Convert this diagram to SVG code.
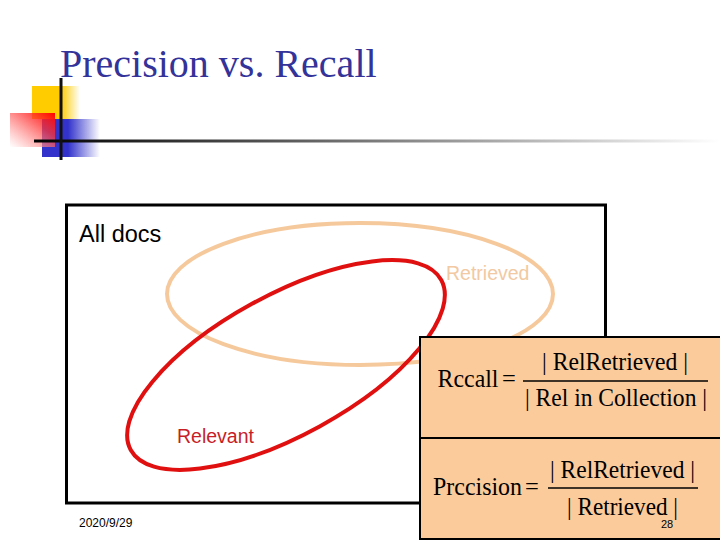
<svg xmlns="http://www.w3.org/2000/svg" width="720" height="540" viewBox="0 0 720 540">
  <defs>
    <linearGradient id="gYellow" x1="0" y1="0" x2="1" y2="0">
      <stop offset="0" stop-color="#FFCC00"/>
      <stop offset="0.6" stop-color="#FFCC00"/>
      <stop offset="1" stop-color="#FFCC00" stop-opacity="0"/>
    </linearGradient>
    <linearGradient id="gBlue" x1="0" y1="0" x2="1" y2="0">
      <stop offset="0" stop-color="#3333CC"/>
      <stop offset="0.45" stop-color="#3333CC"/>
      <stop offset="1" stop-color="#3333CC" stop-opacity="0"/>
    </linearGradient>
    <linearGradient id="gRed" x1="1" y1="0" x2="0" y2="1">
      <stop offset="0" stop-color="#FF0000"/>
      <stop offset="0.35" stop-color="#FF3333" stop-opacity="0.75"/>
      <stop offset="1" stop-color="#FFFFFF" stop-opacity="0.6"/>
    </linearGradient>
    <linearGradient id="gLine" x1="0" y1="0" x2="1" y2="0">
      <stop offset="0" stop-color="#000000"/>
      <stop offset="0.35" stop-color="#555555"/>
      <stop offset="1" stop-color="#FFFFFF"/>
    </linearGradient>
  </defs>
  <style>
    .title { font-family: "Liberation Serif", "Times New Roman", serif; font-size: 40px; fill: #333399; }
    .sans { font-family: "Liberation Sans", Arial, sans-serif; }
    .math { font-family: "Liberation Serif", "Times New Roman", serif; font-size: 24.5px; fill: #000; }
    .box { fill: #FBCB9C; stroke: #000; stroke-width: 2; }
    .frac { stroke: #000; stroke-width: 1.5; }
  </style>

  <rect width="720" height="540" fill="#FFFFFF"/>

  <g id="decoration">
    <rect x="32" y="86" width="48" height="33" fill="url(#gYellow)"/>
    <rect x="42" y="119" width="58" height="38" fill="url(#gBlue)"/>
    <rect x="10" y="113" width="45" height="34" fill="url(#gRed)"/>
    <rect x="34" y="139.5" width="686" height="3" fill="url(#gLine)"/>
    <rect x="59.5" y="78" width="3" height="82" fill="#111111"/>
  </g>

  <g id="title">
    <text class="title" x="60" y="77">Precision vs. Recall</text>
  </g>

  <g id="all-docs">
    <rect x="66.5" y="205" width="539" height="298" fill="none" stroke="#000" stroke-width="3"/>
    <text class="sans" x="79" y="242" font-size="23.5" fill="#000">All docs</text>
  </g>

  <g id="retrieved">
    <ellipse cx="360" cy="294" rx="193" ry="71" fill="none" stroke="#F6C99C" stroke-width="4"/>
    <text class="sans" x="446" y="280" font-size="19.5" fill="#F2C9A2">Retrieved</text>
  </g>

  <g id="relevant">
    <ellipse cx="286" cy="365" rx="177" ry="70" transform="rotate(-28.7 286 365)" fill="none" stroke="#E01010" stroke-width="4"/>
    <text class="sans" x="177" y="443" font-size="19.5" fill="#C81E28">Relevant</text>
  </g>

  <g id="recall-formula">
    <rect class="box" x="420" y="337" width="302" height="101"/>
    <text class="math" x="437.5" y="387" textLength="61" lengthAdjust="spacingAndGlyphs">Rccall</text>
    <text class="math" x="502" y="387">=</text>
    <line class="frac" x1="523" y1="381" x2="708" y2="381"/>
    <text class="math" x="542" y="370" textLength="146" lengthAdjust="spacingAndGlyphs">| RelRetrieved |</text>
    <text class="math" x="525" y="406" textLength="182" lengthAdjust="spacingAndGlyphs">| Rel in Collection |</text>
  </g>

  <g id="precision-formula">
    <rect class="box" x="420" y="438" width="302" height="101"/>
    <text class="math" x="433" y="495" textLength="89" lengthAdjust="spacingAndGlyphs">Prccision</text>
    <text class="math" x="525" y="495">=</text>
    <line class="frac" x1="548" y1="488" x2="698" y2="488"/>
    <text class="math" x="550" y="478" textLength="145" lengthAdjust="spacingAndGlyphs">| RelRetrieved |</text>
    <text class="math" x="567" y="515" textLength="111" lengthAdjust="spacingAndGlyphs">| Retrieved |</text>
  </g>

  <g id="footer">
    <text class="sans" x="79" y="527" font-size="12" fill="#000">2020/9/29</text>
    <text class="sans" x="661" y="528" font-size="11" fill="#000">28</text>
  </g>
</svg>
